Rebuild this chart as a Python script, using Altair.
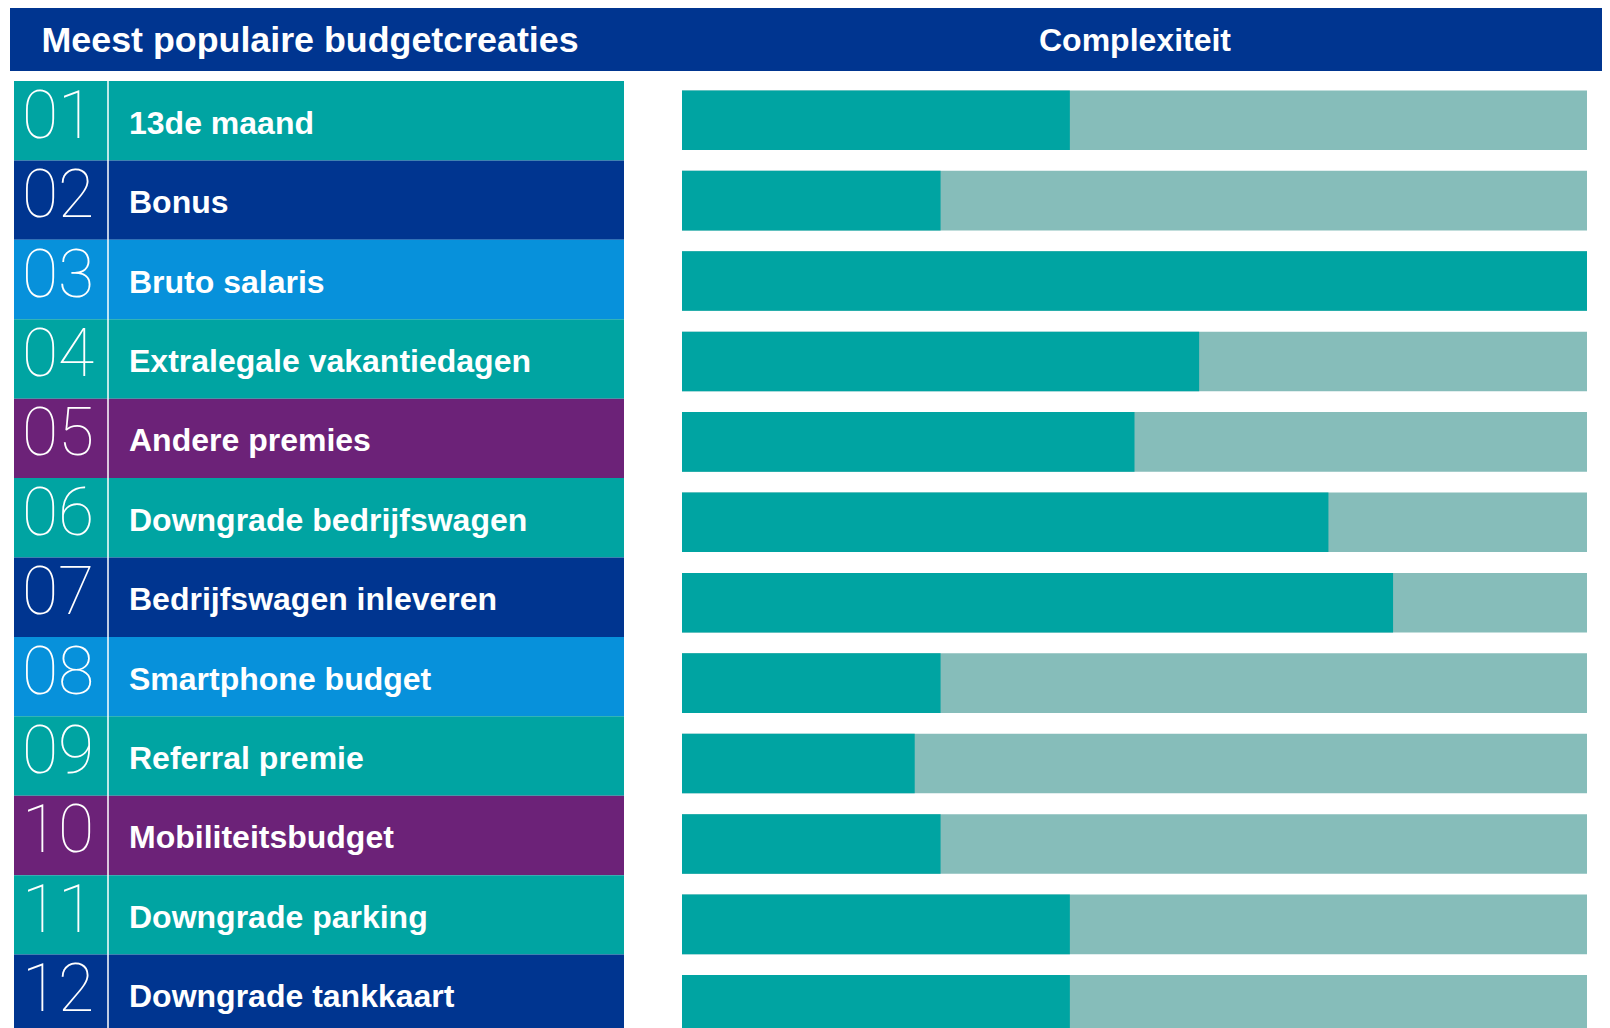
import altair as alt
import pandas as pd

# ---- data -------------------------------------------------------------
HEADERS = ["Meest populaire budgetcreaties", "Complexiteit"]
RANKS = ["01", "02", "03", "04", "05", "06", "07", "08", "09", "10", "11", "12"]
CREATIES = [
    "13de maand",
    "Bonus",
    "Bruto salaris",
    "Extralegale vakantiedagen",
    "Andere premies",
    "Downgrade bedrijfswagen",
    "Bedrijfswagen inleveren",
    "Smartphone budget",
    "Referral premie",
    "Mobiliteitsbudget",
    "Downgrade parking",
    "Downgrade tankkaart",
]
ROW_TINT = ["teal", "navy", "azure", "teal", "purple", "teal",
            "navy", "azure", "teal", "purple", "teal", "navy"]
COMPLEXITEIT = [3, 2, 7, 4, 3.5, 5, 5.5, 2, 1.8, 2, 3, 3]
MAX_SCORE = 7

# ---- styling ----------------------------------------------------------
NAVY = "#003590"
TEAL = "#00A4A2"
AZURE = "#0791DB"
PURPLE = "#6C2278"
LIGHT_TEAL = "#86BDBA"
TINT_DOMAIN = ["teal", "navy", "azure", "purple"]
TINT_RANGE = [TEAL, NAVY, AZURE, PURPLE]
FONT = "Liberation Sans"

W, H = 1594, 1020

df = pd.DataFrame({
    "rank": RANKS,
    "creatie": CREATIES,
    "tint": ROW_TINT,
    "score": COMPLEXITEIT,
    "max": [MAX_SCORE] * len(RANKS),
})

rows_y = alt.Y("rank:N", sort=RANKS, axis=None,
               scale=alt.Scale(range=[73, 1026], paddingInner=0, paddingOuter=0))
bars_y = alt.Y("rank:N", sort=RANKS, axis=None,
               scale=alt.Scale(range=[72, 1037], paddingInner=0.259, paddingOuter=0.1295))
bars_x_scale = alt.Scale(domain=[0, MAX_SCORE], range=[674, 1579], nice=False, zero=True)

base = alt.Chart(df)
one = pd.DataFrame({"k": [0]})

# header band
header_band = alt.Chart(one).mark_rect(color=NAVY).encode(
    x=alt.value(2), x2=alt.value(W), y=alt.value(0), y2=alt.value(63)
)
header_left = alt.Chart(pd.DataFrame({"kop": [HEADERS[0]]})).mark_text(
    font=FONT, fontWeight="bold", fontSize=35.8, color="white",
    align="left", baseline="alphabetic"
).encode(x=alt.value(33.5), y=alt.value(44), text="kop:N")
header_right = alt.Chart(pd.DataFrame({"kop": [HEADERS[1]]})).mark_text(
    font=FONT, fontWeight="bold", fontSize=32, color="white",
    align="center", baseline="alphabetic"
).encode(x=alt.value(1127), y=alt.value(43), text="kop:N")

# left table
row_rects = base.mark_rect().encode(
    y=rows_y,
    x=alt.value(6), x2=alt.value(616),
    color=alt.Color("tint:N", scale=alt.Scale(domain=TINT_DOMAIN, range=TINT_RANGE), legend=None),
)
divider = alt.Chart(one).mark_rule(color="white", strokeWidth=1.5).encode(
    x=alt.value(100), y=alt.value(73), y2=alt.value(H)
)
numbers = base.mark_text(
    font="Roboto", fontWeight=100, fontSize=66, color="white",
    align="center", baseline="middle", dy=-3
).encode(y=rows_y, x=alt.value(50), text="rank:N")
labels = base.mark_text(
    font=FONT, fontWeight="bold", fontSize=32, color="white",
    align="left", baseline="middle", dy=3
).encode(y=rows_y, x=alt.value(121), text="creatie:N")

# complexity bars
bar_bg = base.mark_bar(color=LIGHT_TEAL, strokeWidth=0).encode(
    y=bars_y, x=alt.X("max:Q", scale=bars_x_scale, axis=None)
)
bar_fg = base.mark_bar(color=TEAL, strokeWidth=0).encode(
    y=bars_y, x=alt.X("score:Q", scale=bars_x_scale, axis=None)
)

chart = alt.layer(
    header_band, header_left, header_right,
    row_rects, divider, numbers, labels,
    bar_bg, bar_fg,
).resolve_scale(y="independent").properties(
    width=W, height=H, padding=0,
    autosize=alt.AutoSizeParams(type="none"),
).configure_view(stroke=None)

chart.save("out.html", embed_options={"renderer": "svg", "actions": False})
